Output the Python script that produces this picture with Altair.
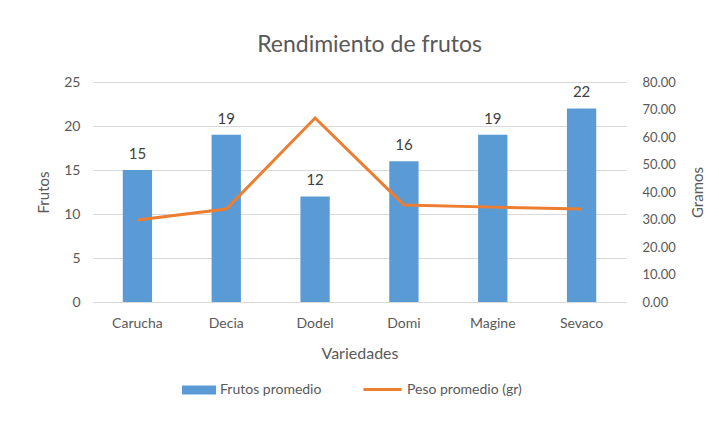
import altair as alt
import pandas as pd

variedades = ["Carucha", "Decia", "Dodel", "Domi", "Magine", "Sevaco"]
frutos = [15, 19, 12, 16, 19, 22]
peso = [29.8, 33.8, 66.9, 35.3, 34.5, 33.8]
serie_barras = "Frutos promedio"
serie_linea = "Peso promedio (gr)"

df = pd.DataFrame({
    "Variedad": variedades,
    "Frutos": frutos,
    "Peso": peso,
    "s1": [serie_barras] * len(variedades),
    "s2": [serie_linea] * len(variedades),
})

FONT = "Lato"
GREY = "#595959"

x = alt.X(
    "Variedad:N",
    sort=variedades,
    scale=alt.Scale(paddingInner=0.67, paddingOuter=0.335),
    axis=alt.Axis(
        title="Variedades", labelAngle=0, domain=True, domainColor="#d9d9d9",
        ticks=False, labelPadding=14, titlePadding=15, labelFontSize=14,
        titleFontSize=16,
    ),
)

y_left = alt.Y(
    "Frutos:Q",
    scale=alt.Scale(domain=[0, 25]),
    axis=alt.Axis(
        title="Frutos", orient="left", values=[0, 5, 10, 15, 20, 25],
        grid=True, gridColor="#d9d9d9", domain=False, ticks=False,
        labelPadding=13, titlePadding=12, labelFontSize=14, titleFontSize=15,
    ),
)

bars = alt.Chart(df).mark_bar(color="#5b9bd5").encode(
    x=x,
    y=y_left,
    color=alt.Color(
        "s1:N",
        scale=alt.Scale(domain=[serie_barras], range=["#5b9bd5"]),
        legend=alt.Legend(
            title=None, orient="none", legendX=89, legendY=291,
            symbolType="M-1,-0.26H1V0.26H-1Z", symbolSize=1156,
            symbolStrokeWidth=0, symbolOpacity=1, padding=0,
            labelFontSize=14, labelColor=GREY, labelFont=FONT, labelOffset=4,
        ),
    ),
)

labels = alt.Chart(df).mark_text(
    dy=-8, baseline="bottom", fontSize=15, color="#404040", font=FONT
).encode(
    x=x,
    y=alt.Y("Frutos:Q", scale=alt.Scale(domain=[0, 25])),
    text=alt.Text("Frutos:Q"),
)

line = alt.Chart(df).mark_line(strokeWidth=3).encode(
    x=x,
    y=alt.Y(
        "Peso:Q",
        scale=alt.Scale(domain=[0, 80]),
        axis=alt.Axis(
            title="Gramos", orient="right", values=[0, 10, 20, 30, 40, 50, 60, 70, 80],
            format=".2f", grid=False, domain=False, ticks=False,
            labelPadding=16, titlePadding=30, titleAngle=270,
            labelFontSize=13, titleFontSize=15,
        ),
    ),
    color=alt.Color(
        "s2:N",
        scale=alt.Scale(domain=[serie_linea], range=["#ed7d31"]),
        legend=alt.Legend(
            title=None, orient="none", legendX=269, legendY=287,
            symbolType="stroke", symbolSize=1444, symbolStrokeWidth=3,
            padding=0, labelFontSize=14, labelColor=GREY, labelFont=FONT,
            labelOffset=4,
        ),
    ),
)

left = alt.layer(bars, labels)

chart = (
    alt.layer(left, line)
    .resolve_scale(y="independent", color="independent")
    .properties(
        width=533,
        height=220,
        title=alt.TitleParams(
            "Rendimiento de frutos", fontSize=23, color=GREY, font=FONT,
            fontWeight="normal", anchor="middle", offset=18, dx=10,
        ),
        autosize=alt.AutoSizeParams(type="none"),
        padding={"left": 85, "top": 74, "right": 85, "bottom": 110},
        background="white",
    )
    .configure_view(stroke=None)
    .configure_axis(
        labelFont=FONT, titleFont=FONT, labelColor=GREY, titleColor=GREY,
        titleFontWeight="normal",
    )
)

chart.save("out.html", embed_options={"renderer": "svg", "actions": False})
